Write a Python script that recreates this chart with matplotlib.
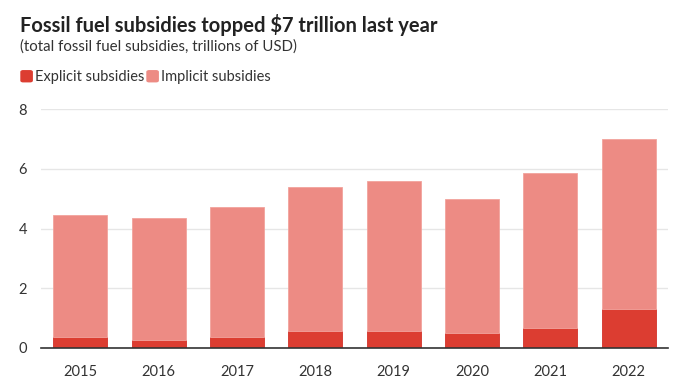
import matplotlib
matplotlib.use("Agg")
from matplotlib import pyplot as plt
from matplotlib.patches import FancyBboxPatch
import numpy as np

plt.rcParams['font.family'] = ['Lato', 'DejaVu Sans']

years = ['2015', '2016', '2017', '2018', '2019', '2020', '2021', '2022']
total = [4.45, 4.35, 4.72, 5.38, 5.58, 4.98, 5.85, 7.0]
explicit = [0.38, 0.27, 0.38, 0.57, 0.57, 0.49, 0.68, 1.29]
implicit = [t - e for t, e in zip(total, explicit)]

c_exp = '#dc3d31'
c_imp = '#ed8b84'

fig = plt.figure(figsize=(7, 3.91), dpi=100)
ax = fig.add_axes([0.0586, 0.110, 0.8957, 0.611])

x = np.arange(len(years))
w = 0.69
ax.bar(x, explicit, width=w, color=c_exp, edgecolor='#d3322a', linewidth=0.6, zorder=3)
ax.bar(x, implicit, width=w, bottom=explicit, color=c_imp, edgecolor='#f2a39d',
       linewidth=0.6, zorder=3)

ax.set_xlim(-0.5, 7.5)
ax.set_ylim(0, 8)
ax.set_yticks([0, 2, 4, 6, 8])
ax.set_xticks(x)
ax.set_xticklabels(years)
ax.grid(axis='y', color='#e6e6e6', linewidth=1, zorder=0)
for s in ['top', 'right', 'left']:
    ax.spines[s].set_visible(False)
ax.spines['bottom'].set_color('#333333')
ax.spines['bottom'].set_linewidth(1.2)
ax.spines['bottom'].set_zorder(4)
ax.tick_params(axis='both', length=0, labelsize=10.5, colors='#333333')
ax.tick_params(axis='x', pad=12)
ax.tick_params(axis='y', pad=10)

fig.text(0.029, 0.935, 'Fossil fuel subsidies topped $7 trillion last year',
         fontsize=14.5, fontweight='bold', color='#222222', va='center')
fig.text(0.029, 0.880, '(total fossil fuel subsidies, trillions of USD)',
         fontsize=10.8, color='#333333', va='center')

# legend
for lx, col, lab in [(0.030, c_exp, 'Explicit subsidies'), (0.210, c_imp, 'Implicit subsidies')]:
    fig.patches.append(FancyBboxPatch((lx, 0.791), 0.016, 0.028,
                                      boxstyle='round,pad=0,rounding_size=0.003',
                                      transform=fig.transFigure, color=col))
    fig.text(lx + 0.020, 0.804, lab, fontsize=10.5, color='#333333', va='center')

fig.savefig('out.png', dpi=100)
